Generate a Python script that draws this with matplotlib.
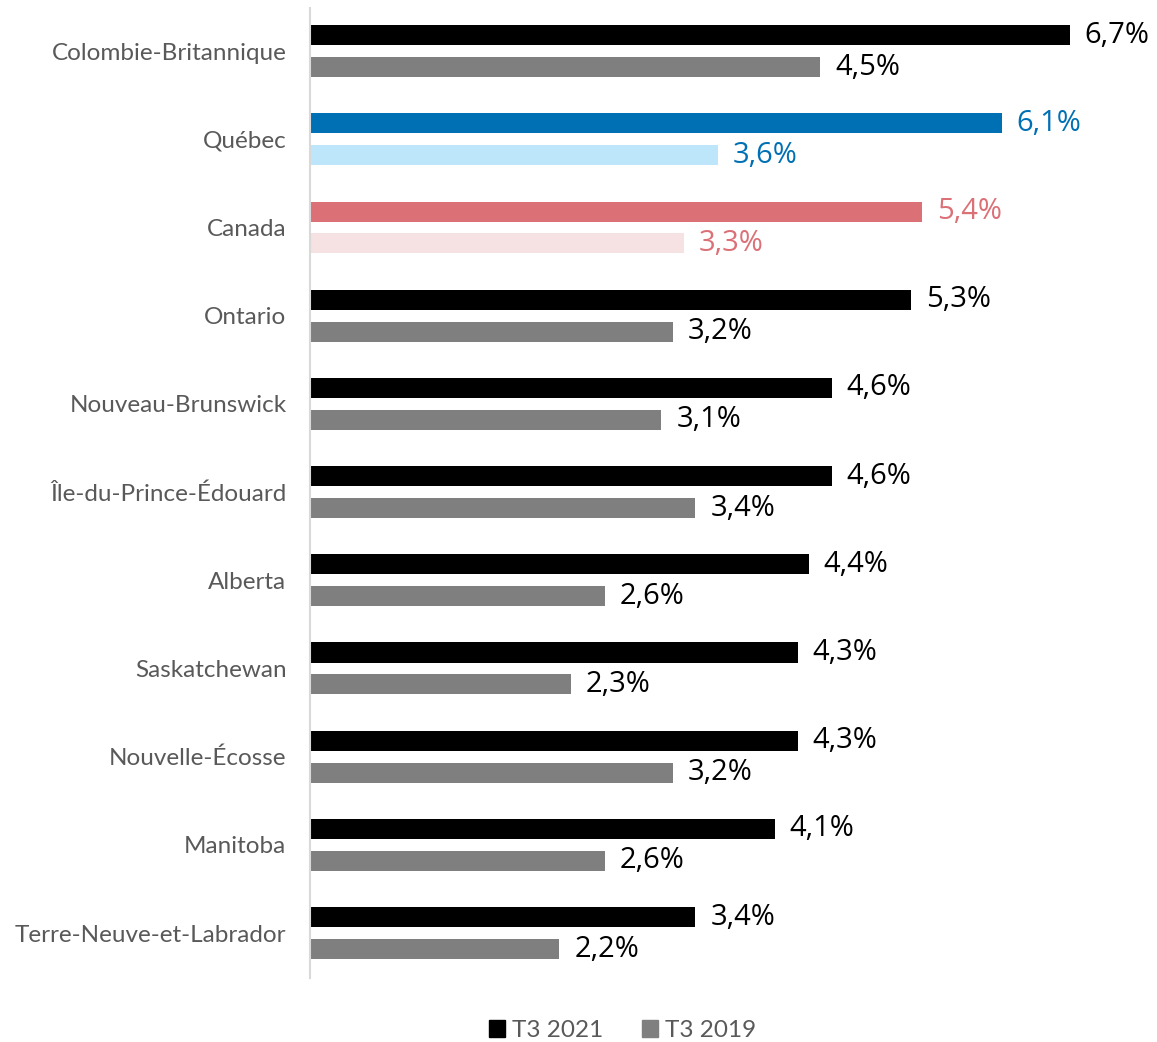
import numpy as np
import matplotlib.pyplot as plt
from matplotlib.patches import Patch

plt.rcParams['font.family'] = ['Lato', 'DejaVu Sans']

provinces = ['Colombie-Britannique', 'Québec', 'Canada', 'Ontario', 'Nouveau-Brunswick',
             'Île-du-Prince-Édouard', 'Alberta', 'Saskatchewan', 'Nouvelle-Écosse',
             'Manitoba', 'Terre-Neuve-et-Labrador']
t3_2021 = [6.7, 6.1, 5.4, 5.3, 4.6, 4.6, 4.4, 4.3, 4.3, 4.1, 3.4]
t3_2019 = [4.5, 3.6, 3.3, 3.2, 3.1, 3.4, 2.6, 2.3, 3.2, 2.6, 2.2]

# couleurs : noir/gris par défaut, bleu pour Québec, rouge pour Canada
col_2021 = ['#000000'] * len(provinces)
col_2019 = ['#7f7f7f'] * len(provinces)
txt_2021 = ['#000000'] * len(provinces)
txt_2019 = ['#000000'] * len(provinces)
col_2021[1], col_2019[1] = '#0070b4', '#bde6fb'
txt_2021[1] = txt_2019[1] = '#0070b4'
col_2021[2], col_2019[2] = '#db7077', '#f6e1e3'
txt_2021[2] = txt_2019[2] = '#db7077'

fig = plt.figure(figsize=(11.57, 10.42), dpi=100)
ax = fig.add_axes([0.268, 0.0614, 0.725, 0.931])

y = np.arange(len(provinces))
off = 0.181
h = 0.227
ax.barh(y - off, t3_2021, height=h, color=col_2021)
ax.barh(y + off, t3_2019, height=h, color=col_2019)

def fmt(v):
    return f'{v:.1f}%'.replace('.', ',')

for i in range(len(provinces)):
    ax.text(t3_2021[i] + 0.13, y[i] - off, fmt(t3_2021[i]), va='center', ha='left',
            fontsize=21, color=txt_2021[i], family=['Open Sans', 'DejaVu Sans'])
    ax.text(t3_2019[i] + 0.13, y[i] + off, fmt(t3_2019[i]), va='center', ha='left',
            fontsize=21, color=txt_2019[i], family=['Open Sans', 'DejaVu Sans'])

ax.set_xlim(0, 7.4)
ax.set_ylim(len(provinces) - 0.49, -0.49)
ax.set_yticks(y)
ax.set_yticklabels(provinces, fontsize=17.5, color='#595959')
ax.tick_params(axis='y', length=0, pad=17)
ax.set_xticks([])
for s in ['top', 'right', 'bottom']:
    ax.spines[s].set_visible(False)
ax.spines['left'].set_color('#d9d9d9')
ax.spines['left'].set_linewidth(1.5)

handles = [Patch(color='#000000', label='T3 2021'), Patch(color='#7f7f7f', label='T3 2019')]
fig.legend(handles=handles, loc='center', bbox_to_anchor=(0.538, 0.011), ncol=2,
           frameon=False, fontsize=17.5, labelcolor='#595959', handlelength=0.65,
           handleheight=0.65, handletextpad=0.3, columnspacing=1.6)

fig.savefig('out.png', dpi=100)
